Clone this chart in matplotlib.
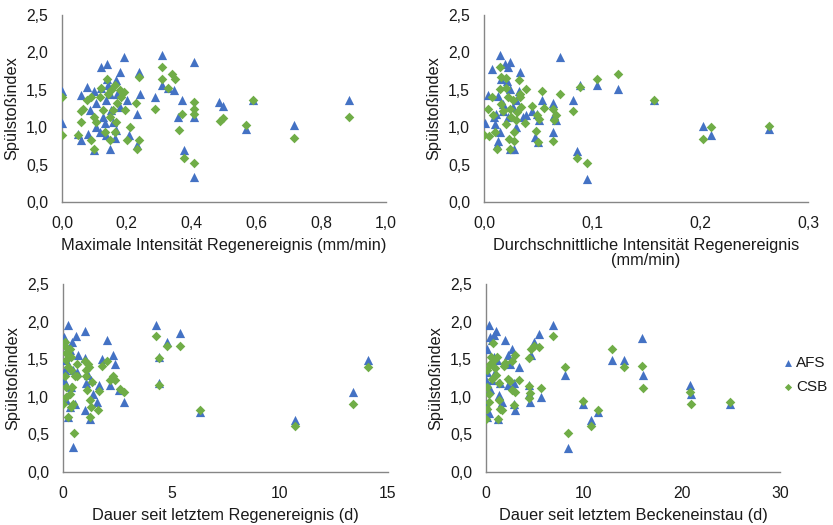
import matplotlib
matplotlib.use("Agg")
import matplotlib.pyplot as plt
from matplotlib.ticker import FuncFormatter, MultipleLocator

plt.rcParams['font.family'] = ['Liberation Sans', 'DejaVu Sans']

# --- Maximale Intensität Regenereignis (mm/min) ---
p1_afs_x = [0.0, 0.0, 0.058, 0.058, 0.05, 0.077, 0.099, 0.099, 0.12, 0.14, 0.14, 0.19, 0.18,
            0.168, 0.148, 0.163, 0.2, 0.206, 0.23, 0.23, 0.238, 0.24, 0.288, 0.31, 0.31, 0.328,
            0.345, 0.357, 0.37, 0.378, 0.408, 0.408, 0.408, 0.486, 0.498, 0.567, 0.588, 0.716,
            0.887, 0.085, 0.106, 0.116, 0.127, 0.137, 0.147, 0.152, 0.158, 0.168, 0.132, 0.137,
            0.106, 0.08, 0.17, 0.142, 0.12, 0.18]
p1_afs_y = [1.49, 1.05, 1.43, 0.83, 0.91, 1.54, 1.49, 0.70, 1.81, 1.85, 1.65, 1.94, 1.74,
            1.63, 0.71, 0.85, 1.36, 0.89, 1.18, 0.76, 1.74, 1.45, 1.41, 1.96, 1.56, 1.52,
            1.50, 1.14, 1.36, 0.69, 1.87, 1.14, 0.33, 1.34, 1.28, 0.98, 1.37, 1.03,
            1.36, 1.23, 1.32, 0.94, 1.14, 1.36, 1.45, 1.23, 1.07, 0.96, 1.05, 0.89,
            1.00, 0.91, 1.45, 1.56, 1.52, 1.27]
p1_csb_x = [0.0, 0.0, 0.05, 0.058, 0.058, 0.065, 0.077, 0.09, 0.09, 0.1, 0.1, 0.106, 0.116,
            0.12, 0.127, 0.132, 0.14, 0.142, 0.147, 0.148, 0.152, 0.158, 0.163, 0.163, 0.168,
            0.17, 0.18, 0.183, 0.19, 0.194, 0.2, 0.21, 0.228, 0.23, 0.238, 0.238, 0.288, 0.31,
            0.31, 0.328, 0.34, 0.35, 0.36, 0.37, 0.378, 0.408, 0.408, 0.408, 0.408, 0.487,
            0.498, 0.567, 0.588, 0.716, 0.887]
p1_csb_y = [1.41, 0.89, 0.89, 1.21, 1.07, 1.25, 1.36, 1.41, 0.83, 0.71, 1.14, 1.07, 1.41,
            1.52, 1.23, 0.94, 1.65, 1.45, 1.14, 0.83, 1.50, 1.23, 1.56, 0.94, 1.07,
            1.32, 1.50, 1.41, 1.47, 1.23, 0.83, 1.00, 1.32, 0.71, 1.67, 0.83, 1.25, 1.81,
            1.65, 1.52, 1.71, 1.64, 0.96, 1.17, 0.59, 1.34, 1.25, 1.18, 0.52, 1.08,
            1.12, 1.03, 1.36, 0.85, 1.13]

# --- Durchschnittliche Intensität Regenereignis (mm/min) ---
p2_afs_x = [0.0006, 0.004, 0.007, 0.015, 0.019, 0.022, 0.024, 0.033, 0.016, 0.021, 0.013,
            0.024, 0.032, 0.009, 0.01, 0.013, 0.015, 0.012, 0.024, 0.028, 0.03, 0.036, 0.039,
            0.044, 0.049, 0.051, 0.047, 0.05, 0.054, 0.064, 0.065, 0.067, 0.064, 0.07, 0.082,
            0.086, 0.095, 0.089, 0.105, 0.124, 0.157, 0.203, 0.21, 0.264, 0.018, 0.022, 0.027,
            0.03, 0.018, 0.011]
p2_afs_y = [1.05, 1.43, 1.78, 1.96, 1.84, 1.80, 1.87, 1.74, 1.64, 1.62, 1.42,
            1.51, 1.49, 1.13, 1.04, 0.82, 0.93, 0.76, 0.71, 0.71, 1.00, 1.13, 1.16,
            1.22, 1.18, 1.09, 0.87, 0.80, 1.36, 1.33, 1.16, 1.09, 0.93, 1.94, 1.36,
            0.68, 0.31, 1.56, 1.56, 1.51, 1.36, 1.01, 0.90, 0.98, 1.22, 1.13, 1.27,
            1.36, 1.31, 1.18]
p2_csb_x = [0.0, 0.004, 0.005, 0.007, 0.008, 0.01, 0.012, 0.015, 0.016, 0.015, 0.016, 0.018,
            0.02, 0.02, 0.02, 0.022, 0.023, 0.024, 0.024, 0.025, 0.027, 0.028, 0.028, 0.03,
            0.031, 0.032, 0.033, 0.033, 0.034, 0.039, 0.038, 0.044, 0.048, 0.049, 0.05, 0.051,
            0.054, 0.056, 0.064, 0.064, 0.065, 0.067, 0.07, 0.082, 0.086, 0.089, 0.095, 0.105,
            0.124, 0.157, 0.203, 0.21, 0.264]
p2_csb_y = [0.89, 1.24, 0.88, 1.40, 1.16, 0.93, 0.71, 1.80, 1.67, 1.51, 1.31, 1.22,
            1.66, 1.53, 1.04, 1.40, 0.84, 0.71, 1.24, 1.13, 1.36, 0.93, 0.82, 1.09,
            1.20, 1.63, 1.45, 1.40, 1.27, 1.51, 1.05, 1.28, 0.95, 1.16, 0.80, 1.11,
            1.48, 1.26, 1.24, 0.82, 1.09, 1.16, 1.44, 1.22, 0.59, 1.54, 0.52, 1.64,
            1.71, 1.36, 0.84, 1.00, 1.02]

# --- Dauer seit letztem Regenereignis (d) ---
p3_afs_x = [0.05, 0.23, 0.41, 0.61, 0.69, 1.0, 1.0, 1.04, 1.0, 1.23, 1.15, 1.3, 1.38, 1.66,
            1.58, 1.81, 2.02, 2.17, 2.3, 2.42, 2.6, 2.83, 0.46, 0.23, 4.29, 4.45, 4.42, 4.8,
            5.4, 6.3, 10.73, 13.37, 14.08, 0.08, 0.15, 0.31, 0.46, 0.12, 0.31, 0.38, 0.54,
            0.64, 0.05]
p3_afs_y = [1.80, 1.96, 1.73, 1.81, 1.56, 1.87, 1.51, 1.18, 0.82, 0.71, 1.29, 1.22, 1.04, 1.16,
            0.93, 1.50, 1.75, 1.16, 1.56, 1.43, 1.09, 0.93, 0.33, 0.73, 1.96, 1.53, 1.18, 1.73,
            1.85, 0.80, 0.69, 1.07, 1.49, 1.36, 1.49, 1.62, 1.36, 0.96, 0.87, 1.13, 0.91,
            1.33, 1.22]
p3_csb_x = [0.08, 0.08, 0.15, 0.15, 0.23, 0.31, 0.38, 0.0, 0.08, 0.15, 0.23, 0.31, 0.38, 0.43,
            0.46, 0.49, 0.54, 0.64, 0.64, 0.38, 0.15, 1.0, 1.04, 1.07, 1.1, 1.15, 1.2, 1.23,
            1.23, 1.3, 1.35, 1.6, 1.66, 1.81, 2.02, 2.17, 2.3, 2.42, 2.63, 2.83, 4.29, 4.42,
            4.45, 4.8, 5.4, 6.3, 10.73, 13.37, 14.08]
p3_csb_y = [1.73, 1.67, 1.49, 1.58, 1.40, 1.64, 1.53, 0.91, 1.27, 1.13, 0.73, 1.04, 0.87, 1.13,
            0.91, 0.52, 1.27, 1.44, 1.27, 1.36, 1.00, 1.47, 1.36, 1.27, 1.09, 1.44, 1.40, 0.96,
            0.73, 0.87, 1.20, 0.83, 1.08, 1.41, 1.47, 1.23, 1.27, 1.22, 1.11, 1.07, 1.81, 1.16,
            1.51, 1.68, 1.67, 0.82, 0.61, 0.90, 1.40]

# --- Dauer seit letztem Beckeneinstau (d) ---
p4_afs_x = [0.27, 0.44, 0.1, 0.6, 0.78, 1.05, 0.78, 0.1, 0.03, 0.1, 0.27, 1.19, 1.29, 1.46,
            1.63, 1.97, 2.2, 2.2, 2.4, 2.64, 2.81, 2.81, 2.98, 3.32, 4.34, 4.34, 4.5, 4.6,
            4.85, 5.36, 5.6, 6.8, 8.06, 8.4, 9.93, 10.68, 11.39, 12.9, 14.07, 15.93, 16.03,
            20.85, 20.95, 24.85, 0.95, 0.6, 1.12, 0.44, 0.0]
p4_afs_y = [1.96, 1.80, 1.64, 1.76, 1.82, 1.88, 1.53, 1.33, 0.91, 0.73, 0.78, 0.71, 1.02, 1.18,
            0.93, 1.75, 1.56, 1.16, 1.44, 1.64, 1.18, 0.91, 0.82, 1.39, 1.16, 1.04, 0.93, 1.56,
            1.73, 1.84, 1.00, 1.96, 1.29, 0.32, 0.91, 0.69, 0.80, 1.49, 1.49, 1.78, 1.29,
            1.16, 1.04, 0.91, 1.33, 1.22, 1.49, 1.11, 1.22]
p4_csb_x = [0.03, 0.1, 0.27, 0.27, 0.1, 0.1, 0.44, 0.5, 0.6, 0.71, 0.78, 0.95, 1.05, 1.12,
            1.29, 1.29, 1.19, 1.46, 1.63, 1.8, 1.97, 2.2, 2.4, 2.64, 2.64, 2.81, 2.98, 2.98,
            3.32, 4.34, 4.34, 4.5, 4.34, 4.6, 4.85, 5.36, 5.6, 6.8, 8.06, 8.4, 9.93, 10.68,
            11.39, 12.9, 14.07, 15.93, 16.03, 20.85, 20.95, 24.85]
p4_csb_y = [0.71, 0.84, 0.93, 1.04, 1.13, 1.36, 1.44, 1.53, 1.24, 1.71, 1.49, 1.38, 1.29, 1.53,
            1.19, 0.96, 0.71, 0.84, 0.82, 1.41, 1.45, 1.24, 1.21, 1.47, 1.09, 0.89, 1.07, 1.56,
            1.22, 1.14, 0.98, 1.05, 1.51, 1.64, 1.68, 1.66, 1.12, 1.81, 1.39, 0.52, 0.95, 0.61,
            0.82, 1.64, 1.39, 1.41, 1.12, 1.07, 0.90, 0.93]

series_names = ["AFS", "CSB"]
y_label = "Spülstoßindex"
x_labels = ["Maximale Intensität Regenereignis (mm/min)",
            "Durchschnittliche Intensität Regenereignis\n(mm/min)",
            "Dauer seit letztem Regenereignis (d)",
            "Dauer seit letztem Beckeneinstau (d)"]

AFS_COLOR = "#4472C4"
CSB_COLOR = "#70AD47"
TEXT_COLOR = "#1a1a1a"
AXIS_COLOR = "#868686"

W, H = 833, 525
fig = plt.figure(figsize=(W / 100, H / 100), dpi=100)


def box(l, r, t, b):
    return [l / W, 1 - b / H, (r - l) / W, (b - t) / H]


panels = [
    dict(rect=box(62, 386, 15, 202), data=(p1_afs_x, p1_afs_y, p1_csb_x, p1_csb_y),
         xlim=1.0, xstep=0.2, fmt="{:.1f}", comma=True),
    dict(rect=box(484, 808, 15, 202), data=(p2_afs_x, p2_afs_y, p2_csb_x, p2_csb_y),
         xlim=0.3, xstep=0.1, fmt="{:.1f}", comma=True),
    dict(rect=box(63, 388, 284, 472), data=(p3_afs_x, p3_afs_y, p3_csb_x, p3_csb_y),
         xlim=15, xstep=5, fmt="{:.0f}", comma=False),
    dict(rect=box(486, 780, 284, 472), data=(p4_afs_x, p4_afs_y, p4_csb_x, p4_csb_y),
         xlim=30, xstep=10, fmt="{:.0f}", comma=False),
]

dec = FuncFormatter(lambda v, p: f"{v:.1f}".replace(".", ","))

for i, pn in enumerate(panels):
    ax = fig.add_axes(pn["rect"])
    ax_x, ax_y, cs_x, cs_y = pn["data"]
    h1 = ax.scatter(ax_x, ax_y, marker="^", s=44, color=AFS_COLOR, linewidths=0,
                    label=series_names[0], zorder=3)
    h2 = ax.scatter(cs_x, cs_y, marker="D", s=24, color=CSB_COLOR, linewidths=0,
                    label=series_names[1], zorder=4)
    ax.set_xlim(0, pn["xlim"])
    ax.set_ylim(0, 2.5)
    ax.xaxis.set_major_locator(MultipleLocator(pn["xstep"]))
    ax.yaxis.set_major_locator(MultipleLocator(0.5))
    ax.yaxis.set_major_formatter(dec)
    f = pn["fmt"]
    if pn["comma"]:
        ax.xaxis.set_major_formatter(FuncFormatter(lambda v, p, f=f: f.format(v).replace(".", ",")))
    else:
        ax.xaxis.set_major_formatter(FuncFormatter(lambda v, p, f=f: f.format(v)))
    for s in ("top", "right"):
        ax.spines[s].set_visible(False)
    for s in ("left", "bottom"):
        ax.spines[s].set_color(AXIS_COLOR)
        ax.spines[s].set_linewidth(1.0)
    ax.tick_params(length=0, labelsize=11.3, colors=TEXT_COLOR)
    ax.tick_params(axis="x", pad=10)
    ax.tick_params(axis="y", pad=10)
    ax.set_ylabel(y_label, fontsize=11.8, color=TEXT_COLOR, labelpad=5)
    ax.set_xlabel(x_labels[i], fontsize=11.8, color=TEXT_COLOR, labelpad=5, linespacing=1.05)
    ax.patch.set_alpha(0)

fig.legend(handles=[h1, h2], labels=series_names, loc="upper left",
           bbox_to_anchor=(780 / W, 1 - 356 / H), frameon=False, fontsize=11,
           handletextpad=0.05, labelspacing=0.65, borderpad=0, borderaxespad=0,
           handlelength=1.0, markerscale=0.75, scatterpoints=1, labelcolor=TEXT_COLOR)

fig.savefig("out.png", dpi=100)
